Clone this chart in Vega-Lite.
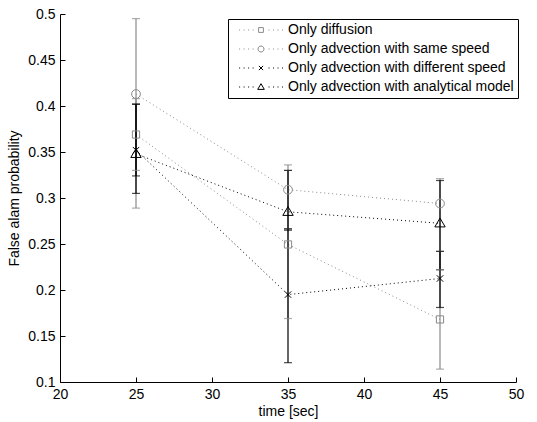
{
  "$schema": "https://vega.github.io/schema/vega-lite/v6.json",
  "autosize": {"type": "none"},
  "width": 456,
  "height": 368,
  "padding": {"left": 60, "top": 14, "right": 21, "bottom": 40},
  "background": "white",
  "config": {
    "view": {"stroke": null},
    "font": "Liberation Sans",
    "axis": {
      "domainColor": "black",
      "tickColor": "black",
      "labelColor": "black",
      "titleColor": "black",
      "labelFont": "Liberation Sans",
      "titleFont": "Liberation Sans",
      "labelFontSize": 14,
      "titleFontSize": 14,
      "titleFontWeight": "normal",
      "grid": false,
      "tickSize": -5,
      "labelPadding": 10
    }
  },
  "data": {
    "values": [
      {"series": "Only diffusion", "t": 25, "v": 0.369, "lo": 0.289, "hi": 0.408},
      {"series": "Only diffusion", "t": 35, "v": 0.2495, "lo": 0.169, "hi": 0.330},
      {"series": "Only diffusion", "t": 45, "v": 0.168, "lo": 0.114, "hi": 0.222},
      {"series": "Only advection with same speed", "t": 25, "v": 0.413, "lo": 0.330, "hi": 0.495},
      {"series": "Only advection with same speed", "t": 35, "v": 0.309, "lo": 0.2665, "hi": 0.336},
      {"series": "Only advection with same speed", "t": 45, "v": 0.294, "lo": 0.242, "hi": 0.321},
      {"series": "Only advection with different speed", "t": 25, "v": 0.352, "lo": 0.305, "hi": 0.402},
      {"series": "Only advection with different speed", "t": 35, "v": 0.195, "lo": 0.121, "hi": 0.2665},
      {"series": "Only advection with different speed", "t": 45, "v": 0.2125, "lo": 0.181, "hi": 0.242},
      {"series": "Only advection with analytical model", "t": 25, "v": 0.348, "lo": 0.324, "hi": 0.402},
      {"series": "Only advection with analytical model", "t": 35, "v": 0.285, "lo": 0.265, "hi": 0.330},
      {"series": "Only advection with analytical model", "t": 45, "v": 0.2725, "lo": 0.222, "hi": 0.319}
    ]
  },
  "encoding": {
    "x": {
      "field": "t", "type": "quantitative",
      "scale": {"domain": [20, 50], "nice": false, "zero": false},
      "axis": {"values": [20, 25, 30, 35, 40, 45, 50], "title": "time [sec]", "titlePadding": 3, "labelFlush": false}
    },
    "color": {
      "field": "series", "type": "nominal", "legend": null,
      "scale": {
        "domain": ["Only diffusion", "Only advection with same speed", "Only advection with different speed", "Only advection with analytical model"],
        "range": ["#8a8a8a", "#8a8a8a", "#000000", "#000000"]
      }
    }
  },
  "layer": [
    {
      "mark": {"type": "line", "strokeDash": [1, 3], "strokeWidth": 1},
      "encoding": {
        "y": {
          "field": "v", "type": "quantitative",
          "scale": {"domain": [0.1, 0.5], "nice": false, "zero": false},
          "axis": {"values": [0.1, 0.15, 0.2, 0.25, 0.3, 0.35, 0.4, 0.45, 0.5], "format": ".2~f", "title": "False alam probability", "titlePadding": 6}
        },
        "detail": {"field": "series"}
      }
    },
    {
      "mark": {"type": "rule", "strokeWidth": 1.2},
      "encoding": {
        "y": {"field": "lo", "type": "quantitative"},
        "y2": {"field": "hi"}
      }
    },
    {
      "mark": {"type": "tick", "orient": "horizontal", "size": 8, "thickness": 1.2},
      "encoding": {
        "y": {"field": "lo", "type": "quantitative"}
      }
    },
    {
      "mark": {"type": "tick", "orient": "horizontal", "size": 8, "thickness": 1.2},
      "encoding": {
        "y": {"field": "hi", "type": "quantitative"}
      }
    },
    {
      "mark": {"type": "point", "filled": false, "size": 64, "strokeWidth": 1, "opacity": 1},
      "encoding": {
        "y": {"field": "v", "type": "quantitative"},
        "shape": {
          "field": "series", "type": "nominal", "legend": null,
          "scale": {
            "domain": ["Only diffusion", "Only advection with same speed", "Only advection with different speed", "Only advection with analytical model"],
            "range": [
              "M-0.9,-0.9H0.9V0.9H-0.9Z",
              "M1.1,0A1.1,1.1,0,1,1,-1.1,0A1.1,1.1,0,1,1,1.1,0Z",
              "M-0.8,-0.8L0.8,0.8M-0.8,0.8L0.8,-0.8",
              "M0,-1.3L1.3,0.9H-1.3Z"
            ]
          }
        }
      }
    },
    {
      "mark": {"type": "point", "filled": false, "strokeWidth": 1, "opacity": 0},
      "encoding": {
        "y": {"field": "v", "type": "quantitative"},
        "color": {
          "field": "series", "type": "nominal",
          "scale": {
            "domain": ["Only diffusion", "Only advection with same speed", "Only advection with different speed", "Only advection with analytical model"],
            "range": ["#8a8a8a", "#8a8a8a", "#000000", "#000000"]
          },
          "legend": {
            "title": null, "orient": "none", "legendX": 168, "legendY": 5,
            "strokeColor": "black", "fillColor": "white", "padding": 4,
            "labelFont": "Liberation Sans", "labelFontSize": 14, "labelColor": "black", "labelLimit": 400,
            "symbolSize": 36, "symbolStrokeWidth": 1, "symbolOpacity": 1, "symbolOffset": 22, "labelOffset": 20, "rowPadding": 5
          }
        },
        "shape": {
          "field": "series", "type": "nominal",
          "scale": {
            "domain": ["Only diffusion", "Only advection with same speed", "Only advection with different speed", "Only advection with analytical model"],
            "range": [
              "M-0.8,-0.8H0.8V0.8H-0.8ZM-7.3,0h0.34M-5.8,0h0.34M-4.3,0h0.34M-2.8,0h0.34M2.5,0h0.34M4,0h0.34M5.5,0h0.34M7,0h0.34",
              "M1,0A1,1,0,1,1,-1,0A1,1,0,1,1,1,0ZM-7.3,0h0.34M-5.8,0h0.34M-4.3,0h0.34M-2.8,0h0.34M2.5,0h0.34M4,0h0.34M5.5,0h0.34M7,0h0.34",
              "M-0.7,-0.7L0.7,0.7M-0.7,0.7L0.7,-0.7M-7.3,0h0.34M-5.8,0h0.34M-4.3,0h0.34M-2.8,0h0.34M2.5,0h0.34M4,0h0.34M5.5,0h0.34M7,0h0.34",
              "M0,-1.1L1.1,0.8H-1.1ZM-7.3,0h0.34M-5.8,0h0.34M-4.3,0h0.34M-2.8,0h0.34M2.5,0h0.34M4,0h0.34M5.5,0h0.34M7,0h0.34"
            ]
          },
          "legend": {
            "title": null, "orient": "none", "legendX": 168, "legendY": 5,
            "strokeColor": "black", "fillColor": "white", "padding": 4,
            "labelFont": "Liberation Sans", "labelFontSize": 14, "labelColor": "black", "labelLimit": 400,
            "symbolSize": 36, "symbolStrokeWidth": 1, "symbolOpacity": 1, "symbolOffset": 22, "labelOffset": 20, "rowPadding": 5
          }
        }
      }
    }
  ],
  "resolve": {"scale": {"shape": "independent", "color": "independent"}}
}
